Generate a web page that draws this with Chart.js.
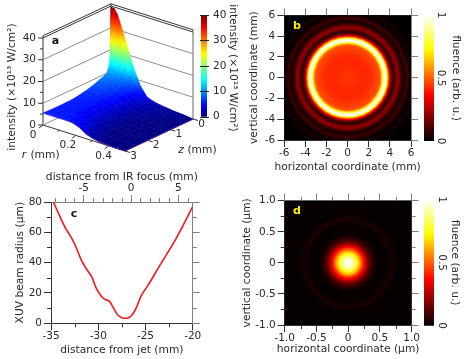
<!DOCTYPE html>
<html><head><meta charset="utf-8">
<style>html,body{margin:0;padding:0;background:#fff;width:468px;height:359px;overflow:hidden}canvas{position:absolute}</style>
<script src="https://cdn.jsdelivr.net/npm/chart.js@4"></script>
</head><body>
<script>
// ---------- panel a: intensity surface ----------
const rVals=[0,.02,.04,.07,.1,.14,.18,.22,.26,.3,.34,.38,.44,.5];
const zVals=[0,.05,.1,.2,.3,.5,.75,1,1.25,1.5,1.75,2,2.5,3];
const intensityRows=[
[39.5,39.3,37,30.5,23.5,14.5,7.5,3.4,2.3,1.7,1.3,.9,.6,0],
[17,16.8,16.2,14.5,12.5,9,5.8,3.2,2.2,1.6,1.2,.8,.5,0],
[12.5,12.4,12,11,9.8,7.5,5,2.9,2,1.5,1.1,.8,.5,0],
[10,10,9.7,9,8,6.3,4.3,2.6,1.8,1.3,1,.7,.4,0],
[9.4,9.3,9,8.4,7.4,5.8,3.9,2.3,1.6,1.1,.8,.6,.3,0],
[8.6,8.5,8.2,7.6,6.7,5.1,3.4,2,1.3,.9,.6,.4,.2,0],
[7.6,7.5,7.3,6.8,6,4.6,3,1.8,1.1,.7,.5,.3,.1,0],
[6.8,6.7,6.5,6.1,5.5,4.3,2.8,1.6,.9,.6,.4,.2,.1,0],
[6.2,6.1,6,5.7,5.2,4.1,2.7,1.5,.8,.5,.3,.2,.1,0],
[5.7,5.7,5.6,5.4,5,4,2.7,1.5,.8,.4,.3,.2,.1,0],
[5.4,5.4,5.3,5.2,4.9,4.1,2.9,1.6,.8,.4,.2,.1,.1,0],
[5.3,5.3,5.3,5.2,5,4.3,3.1,1.8,.9,.4,.2,.1,.1,0],
[5.3,5.3,5.3,5.3,5.2,4.8,3.9,2.5,1.2,.5,.2,.1,0,0],
[5.5,5.5,5.5,5.5,5.5,5.5,5.3,4.2,2.2,1.1,.5,.2,0,0]];
const wallLevels=[0,10,20,30,40,41];
const intensityTicks=[0,10,20,30,40];
const intensityMinor=[5,15,25,35];
const rTicks=[0,.2,.4];
const rTickLabels=['0','0.2','0.4'];
const zTicks=[0,1,2,3];
// ---------- panel b: fluence radial profile ----------
const bRadius=[0,.5,1,1.5,2,2.4,2.7,2.9,3.1,3.2,3.3,3.4,3.5,3.6,3.7,3.8,3.9,4,4.1,4.2,4.3,4.4,4.5,4.65,4.85,5,5.2,5.43,5.6,5.75,5.9,6.05,6.2,6.4,6.55,6.7,6.9,9];
const bFluence=[.44,.44,.43,.42,.42,.43,.45,.46,.48,.55,.68,.82,.95,1,.93,.75,.55,.38,.25,.15,.09,.07,.09,.16,.2,.16,.08,.035,.07,.085,.05,.02,.01,.025,.03,.015,.005,0];
// ---------- panel c: XUV beam radius ----------
const jetDistance=[-34.75,-34.05,-33.45,-32.8,-32.3,-31.8,-31.3,-30.7,-30.2,-29.65,-29.3,-28.85,-28.6,-28.2,-27.9,-27.5,-27.15,-26.8,-26.45,-26,-25.4,-24.7,-23.45,-22.05,-21,-20];
const beamRadius=[80,70.3,62.6,56,49.5,41.8,36.3,30.8,23,17.6,15.8,14.7,12.5,8,5.3,3.7,3.3,3.7,5.3,9.9,18.7,25.3,38.5,52.7,64.8,77];
const cMinorBottom=[-32.5,-27.5,-22.5];
const cMajorTop=[-5,0,5];
const cMinorTop=[-8,-7,-6,-4,-3,-2,-1,1,2,3,4,6];
const cMinorY=[10,30,50,70];
// ---------- panel d: XUV focus radial profile ----------
const dRadius=[0,.03,.06,.09,.12,.15,.18,.21,.24,.27,.3,.33,.36,.39,.42,.46,.5,.56,.64,.68,.71,.74,.78,.86,1.5];
const dFluence=[1,.99,.96,.92,.85,.77,.67,.56,.45,.35,.26,.18,.12,.08,.05,.025,.01,.008,.012,.03,.035,.03,.012,.01,.01];
const dMinor=[-.75,-.25,.25,.75];
const fluenceTicks=[0,.5,1];
const fluenceTickLabels=['0','0.5','1'];

const TEXT='#2a2a2a',DARK='#333',GREY='#808080',FONT='"DejaVu Sans"',TF=`10.7px ${FONT}`;
Chart.defaults.font.family=FONT;Chart.defaults.font.size=10.5;Chart.defaults.color=TEXT;

const clamp=v=>Math.max(0,Math.min(1,v));
function rgb(r,g,b){return `rgb(${Math.round(r*255)},${Math.round(g*255)},${Math.round(b*255)})`}
function hot(v){return rgb(clamp(v/.365),clamp((v-.365)/.365),clamp((v-.73)/.27))}
function jet(v){const s=[[0,0,0,.5],[.11,0,0,1],[.36,0,1,1],[.62,1,1,0],[.87,1,0,0],[1,.5,0,0]];
  v=clamp(v);for(let i=1;i<s.length;i++){if(v<=s[i][0]){const a=s[i-1],b=s[i],t=(v-a[0])/(b[0]-a[0]);
    return rgb(a[1]+(b[1]-a[1])*t,a[2]+(b[2]-a[2])*t,a[3]+(b[3]-a[3])*t)}}return rgb(.5,0,0)}

function mk(left,top,w,h,cfg){const c=document.createElement('canvas');c.width=w;c.height=h;
  c.style.cssText=`left:${left}px;top:${top}px;width:${w}px;height:${h}px`;document.body.appendChild(c);
  cfg.options=Object.assign({responsive:false,animation:false,devicePixelRatio:1,events:[]},cfg.options);
  cfg.options.plugins=Object.assign({legend:{display:false},tooltip:{enabled:false}},cfg.options.plugins);
  return new Chart(c,cfg)}

function text(ctx,s,x,y,o={}){ctx.save();ctx.translate(x,y);if(o.rot)ctx.rotate(o.rot);
  ctx.font=o.font||`10.5px ${FONT}`;ctx.fillStyle=o.color||TEXT;ctx.textAlign=o.align||'center';ctx.textBaseline='middle';
  ctx.fillText(s,0,0);ctx.restore()}

function axis(id,pos,o){const horiz=pos==='top'||pos==='bottom';const a={type:'linear',axis:horiz?'x':'y',position:pos,min:o.min,max:o.max,
  afterFit(s){if(horiz)s.height=o.size;else s.width=o.size},
  border:{display:true,color:o.color,width:1},
  grid:{drawOnChartArea:false,drawTicks:true,tickLength:o.tl||7,tickColor:o.color,tickWidth:1},
  ticks:{display:!!o.fmt,stepSize:o.step,padding:o.pad===undefined?3:o.pad,color:TEXT,font:{size:10.5},includeBounds:false,maxRotation:0,autoSkip:false,callback:o.fmt||(()=>'')},
  title:{display:false}};
  if(o.at)a.afterBuildTicks=s=>{s.ticks=o.at.map(value=>({value}))};
  return a}

// axis titles may be wider than their axis, which the native title would squash
function titlePlugin(list){return {id:'titles',afterDraw(ch){const c=ch.ctx,a=ch.chartArea;
  for(const [s,where,off] of list){
    if(where==='left')text(c,s,off,(a.top+a.bottom)/2,{rot:-Math.PI/2,font:TF});
    else text(c,s,(a.left+a.right)/2,off,{font:TF})}}}}
function minorPlugin(list){return {id:'minor',afterDraw(ch){const c=ch.ctx,a=ch.chartArea;c.save();c.lineWidth=1;
  for(const [id,vals,color] of list){const s=ch.scales[id];c.strokeStyle=color;c.beginPath();
    for(const v of vals){const p=Math.round(s.getPixelForValue(v))+.5;
      if(s.position==='left'){c.moveTo(a.left-4,p);c.lineTo(a.left,p)}
      if(s.position==='right'){c.moveTo(a.right,p);c.lineTo(a.right+4,p)}
      if(s.position==='top'){c.moveTo(p,a.top-4);c.lineTo(p,a.top)}
      if(s.position==='bottom'){c.moveTo(p,a.bottom);c.lineTo(p,a.bottom+4)}}
    c.stroke()}c.restore()}}}
function labelPlugin(s,x,y,color){return {id:'panelLabel',afterDraw(ch){text(ch.ctx,s,x,y,{font:`bold 11px ${FONT}`,color})}}}

// ---- heat map made of nested discs through the library's scales ----
function heat(left,top,w,h,geo,radius,fluence,plugins){
  const idx=radius.map((_,i)=>i).reverse();
  const ds={label:'fluence',data:idx.map(()=>({x:0,y:0})),showLine:false,borderWidth:0,
    pointBorderWidth:0,pointBorderColor:'transparent',
    pointBackgroundColor:c=>hot(fluence[idx[c.dataIndex]]),
    pointRadius:c=>{const s=c.chart.scales.x;return Math.max(0,(s.getPixelForValue(radius[idx[c.dataIndex]])-s.getPixelForValue(0)))}};
  mk(left,top,w,h,{type:'scatter',data:{datasets:[ds]},options:{layout:{padding:0},scales:geo},plugins});
}
const fmtInt=v=>String(v);
const fmtOne=v=>v===0?'0':Number(v).toFixed(1);
function heatAxes(lim,step,g,fmt){return {
  x:axis('x','bottom',{min:-lim,max:lim,step,size:g.bottom,color:DARK,fmt,pad:0}),
  y:axis('y','left',{min:-lim,max:lim,step,size:g.left,color:DARK,fmt,pad:2}),
  x2:axis('x2','top',{min:-lim,max:lim,step,size:g.top,color:GREY}),
  y2:axis('y2','right',{min:-lim,max:lim,step,size:g.right,color:GREY})}}

// panel b
heat(235,0,185,178,heatAxes(6,2,{bottom:38,left:49.3,top:15.3,right:9},fmtInt),
  bRadius,bFluence,[labelPlugin('b',62,26,'#ffee00'),titlePlugin([['horizontal coordinate (mm)','bottom',167],['vertical coordinate (mm)','left',19]])]);
// panel d
heat(235,175,185,184,heatAxes(1,.5,{bottom:34,left:49.7,top:25.7,right:8.3},fmtOne),
  dRadius,dFluence,[labelPlugin('d',62,36,'#ffee00'),titlePlugin([['horizontal coordinate (µm)','bottom',174],['vertical coordinate (µm)','left',12]]),
  minorPlugin([['x',dMinor,DARK],['y',dMinor,DARK],['x2',dMinor,GREY],['y2',dMinor,GREY]])]);

// panel c
mk(0,165,235,194,{type:'scatter',data:{datasets:[{label:'XUV beam radius',
    data:jetDistance.map((x,i)=>({x,y:beamRadius[i]})),showLine:true,borderColor:'#f01818',borderWidth:1.6,pointRadius:0,tension:.35,fill:false}]},
  options:{layout:{padding:0},scales:{
    x:axis('x','bottom',{min:-35,max:-20,step:5,size:35.7,color:DARK,fmt:fmtInt,pad:0}),
    y:axis('y','left',{min:0,max:80,step:20,size:51,color:DARK,fmt:fmtInt,pad:2}),
    x2:axis('x2','top',{min:-8.47,max:6.53,at:cMajorTop,size:37,color:GREY,fmt:fmtInt,pad:0}),
    y2:axis('y2','right',{min:0,max:80,step:20,size:42.3,color:GREY})}},
  plugins:[labelPlugin('c',74,49,'#111'),titlePlugin([['distance from jet (mm)','bottom',185],['distance from IR focus (mm)','top',12],['XUV beam radius (µm)','left',20]]),
    minorPlugin([['x',cMinorBottom,DARK],['y',cMinorY,DARK],['x2',cMinorTop,GREY],['y2',cMinorY,GREY]])]});

// colour bars
function colorbar(left,top,w,h,area,maxV,map,deco){
  mk(left,top,w,h,{type:'bar',data:{labels:['scale'],datasets:[{label:'scale',data:[maxV],barPercentage:1,categoryPercentage:1,borderWidth:0,
      backgroundColor:c=>{const ch=c.chart,ca=ch.chartArea;if(!ca)return map(.5);
        const g=ch.ctx.createLinearGradient(0,ca.bottom,0,ca.top);
        for(let i=0;i<=32;i++)g.addColorStop(i/32,map(i/32));return g}}]},
    options:{layout:{padding:area},scales:{x:{display:false},y:{display:false,min:0,max:maxV}}},
    plugins:[{id:'cb',afterDraw:ch=>deco(ch.ctx,ch.scales.y,ch.chartArea)}]});
}
const CW=Math.PI/2;
function fluenceDeco(lx,tx){return (ctx,y)=>{
  fluenceTicks.forEach((v,i)=>text(ctx,fluenceTickLabels[i],lx,y.getPixelForValue(v),{rot:CW}));
  text(ctx,'fluence (arb. u.)',tx,y.getPixelForValue(.5),{rot:CW,font:TF})}}
colorbar(420,0,48,178,{left:4,right:34,top:15,bottom:37},1,hot,fluenceDeco(21,36));
colorbar(420,175,48,184,{left:4,right:34,top:24.5,bottom:33.3},1,hot,fluenceDeco(22,35));

// panel a
const P=(r,z,I)=>({x:43+164*r+68*(1-z/3),y:125+52*r-32*(1-z/3)-I*2.175});
const surfacePts=[];zVals.forEach((z,i)=>rVals.forEach((r,j)=>surfacePts.push(P(r,z,intensityRows[i][j]))));
const lineDs=(data,color,w)=>({data,showLine:true,borderColor:color,borderWidth:w||1,pointRadius:0,tension:0,fill:false});
const wallDs=[];
wallLevels.forEach(I=>{const c=I>=40?'#333':'#8c8c8c';
  wallDs.push(lineDs([P(0,3,I),P(0,0,I)],c));wallDs.push(lineDs([P(0,0,I),P(.5,0,I)],c))});
wallDs.push(lineDs([P(0,3,0),P(0,3,41)],'#333'));
wallDs.push(lineDs([P(0,0,0),P(0,0,41)],'#333'));
wallDs.push(lineDs([P(.5,0,0),P(.5,0,41)],'#666'));
wallDs.push(lineDs([P(0,3,0),P(.5,3,0)],'#333'));
wallDs.push(lineDs([P(.5,3,0),P(.5,0,0)],'#333'));
const surfaceDs={label:'intensity',data:surfacePts,showLine:false,pointRadius:0};
const surfacePlugin={id:'surface',afterDatasetsDraw(ch){
  const c=ch.ctx,meta=ch.getDatasetMeta(0).data,nr=rVals.length,nz=zVals.length,lv=v=>v/40;
  const at=(i,j)=>meta[i*nr+j];
  for(let i=0;i<nz-1;i++)for(let j=0;j<nr-1;j++){
    const cs=[[i,j],[i,j+1],[i+1,j+1],[i+1,j]].map(([a,b])=>({p:at(a,b),v:intensityRows[a][b]}));
    let lo=cs[0],hi=cs[0];cs.forEach(k=>{if(k.v<lo.v)lo=k;if(k.v>hi.v)hi=k});
    let fill;
    if(hi.v-lo.v<.02)fill=jet(lv(hi.v));
    else{fill=c.createLinearGradient(lo.p.x,lo.p.y,hi.p.x,hi.p.y);
      for(let s=0;s<=6;s++)fill.addColorStop(s/6,jet(lv(lo.v+(hi.v-lo.v)*s/6)))}
    c.beginPath();cs.forEach((k,n)=>n?c.lineTo(k.p.x,k.p.y):c.moveTo(k.p.x,k.p.y));c.closePath();
    c.fillStyle=fill;c.strokeStyle=fill;c.lineWidth=.6;c.fill();c.stroke();
  }
  // front edges of the surface
  c.strokeStyle='rgba(140,40,190,.75)';c.lineWidth=.8;c.beginPath();
  for(let j=0;j<nr;j++){const p=at(nz-1,j);j?c.lineTo(p.x,p.y):c.moveTo(p.x,p.y)}
  for(let i=nz-2;i>=0;i--){const p=at(i,nr-1);c.lineTo(p.x,p.y)}
  c.stroke();
  // post ticks
  const sx=ch.scales.x,sy=ch.scales.y,M=(q)=>({x:sx.getPixelForValue(q.x),y:sy.getPixelForValue(q.y)});
  c.strokeStyle='#333';c.lineWidth=1;c.beginPath();
  intensityTicks.forEach(I=>{const q=M(P(0,3,I));c.moveTo(q.x-5,q.y);c.lineTo(q.x,q.y)});
  intensityMinor.forEach(I=>{const q=M(P(0,3,I));c.moveTo(q.x-3,q.y);c.lineTo(q.x,q.y)});
  rTicks.forEach(r=>{const q=M(P(r,3,0));c.moveTo(q.x,q.y);c.lineTo(q.x-4,q.y+3)});
  c.moveTo(M(P(.1,3,0)).x,M(P(.1,3,0)).y);c.lineTo(M(P(.1,3,0)).x-2,M(P(.1,3,0)).y+1.5);
  c.moveTo(M(P(.3,3,0)).x,M(P(.3,3,0)).y);c.lineTo(M(P(.3,3,0)).x-2,M(P(.3,3,0)).y+1.5);
  zTicks.forEach(z=>{const q=M(P(.5,z,0));c.moveTo(q.x,q.y);c.lineTo(q.x+5,q.y+1.5)});
  c.stroke();
  // text
  intensityTicks.forEach(I=>{const q=M(P(0,3,I));text(c,String(I),q.x-7,q.y,{align:'right'})});
  text(c,'intensity (×10¹³ W/cm²)',12,87,{rot:-CW,font:TF});
  const rOff=[-10,-8,-5];
  rTicks.forEach((r,k)=>{const q=M(P(r,3,0));text(c,rTickLabels[k],q.x+rOff[k],q.y+10)});
  zTicks.forEach(z=>{const q=M(P(.5,z,0));text(c,String(z),q.x+8.5,q.y+5)});
  text(c,'r',24,155,{font:`italic 10.7px ${FONT}`});text(c,' (mm)',27,155,{align:'left',font:TF});
  text(c,'z',181,150,{font:`italic 10.7px ${FONT}`});text(c,' (mm)',184,150,{align:'left',font:TF});
  text(c,'a',55.5,41.5,{font:`bold 11px ${FONT}`,color:'#111'});
}};
mk(0,0,240,170,{type:'scatter',data:{datasets:[surfaceDs,...wallDs]},
  options:{layout:{padding:0},scales:{x:{display:false,type:'linear',min:0,max:240},y:{display:false,type:'linear',reverse:true,min:0,max:170}}},
  plugins:[surfacePlugin]});
colorbar(195,0,45,140,{left:6,right:33,top:15,bottom:23.3},40,v=>jet(v),(ctx,y,a)=>{
  ctx.strokeStyle='#222';ctx.lineWidth=1;ctx.beginPath();
  intensityTicks.forEach(v=>{const p=Math.round(y.getPixelForValue(v))+.5;ctx.moveTo(a.left-1,p);ctx.lineTo(a.right+2,p)});ctx.stroke();
  intensityTicks.forEach(v=>text(ctx,String(v),18,y.getPixelForValue(v),{align:'left'}));
  text(ctx,'intensity (×10¹³ W/cm²)',38,68,{rot:CW,font:TF});
});
</script>
</body></html>
